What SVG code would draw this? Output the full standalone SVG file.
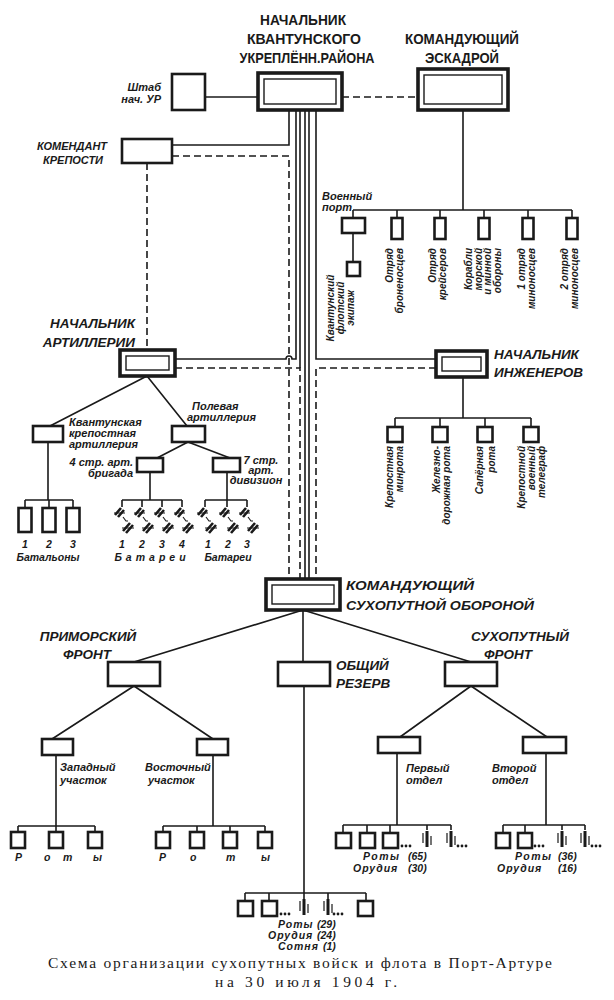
<svg xmlns="http://www.w3.org/2000/svg" xmlns:xlink="http://www.w3.org/1999/xlink" width="614" height="1000" viewBox="0 0 614 1000">
<style>
.ln{stroke:#1a1a1a;stroke-width:1.6;fill:none}
.dash{stroke:#1a1a1a;stroke-width:1.6;fill:none;stroke-dasharray:7 4}
.box{fill:#fff;stroke:#1a1a1a;stroke-width:2.6}
.bo{fill:#fff;stroke:#1a1a1a;stroke-width:3.6}
.bi{fill:none;stroke:#1a1a1a;stroke-width:1.4}
.sym{stroke:#1a1a1a;fill:none}
.dot{fill:#1a1a1a}
text{font-family:"Liberation Sans",Arial,sans-serif;fill:#1a1a1a}
.h{font-size:15.5px;font-weight:bold}
.hi{font-size:13.5px;font-weight:bold;font-style:italic}
.s{font-size:11px;font-weight:bold;font-style:italic}
.r{font-size:10px;font-weight:bold;font-style:italic}
.n{font-size:10.5px;font-weight:bold;font-style:italic}
.cap{font-family:"Liberation Serif","Times New Roman",serif;font-size:15.5px}
</style>
<defs>
<g id="bat" class="sym">
<path d="M-9,8 L-3,1 M-6,10 L0,3" stroke-width="2.6"/>
<path d="M-10,6 H1" stroke-width="1"/>
<path d="M-1,10 L2,14 H4" stroke-width="1.1"/>
<path d="M-1,24 L6,16 M2,26 L9,18" stroke-width="2.6"/>
<path d="M-2,21 H10" stroke-width="1"/>
</g>
<g id="gun" class="sym">
<path d="M0,-8 V8" stroke-width="3"/>
<path d="M-4,-6 V4 M4,-3 V6" stroke-width="1.2"/>
</g>
<g id="dots" class="dot">
<circle cx="0" cy="0" r="1.4"/><circle cx="4" cy="0" r="1.4"/><circle cx="8" cy="0" r="1.4"/>
</g>
</defs>
<rect x="0" y="0" width="614" height="1000" fill="#fff"/>

<g id="connectors">
<path class="ln" d="M205,97 H258"/>
<path class="dash" d="M342,97 H418"/>
<path class="ln" d="M463,110 V210 M353,210 H572 M353,210 V218 M397,210 V218 M440,210 V218 M484,210 V218 M528,210 V218 M572,210 V218 M353,233 V262"/>
<path class="ln" d="M289,110 V145 H172"/>
<path class="dash" d="M172,156 H289 V579"/>
<path class="ln" d="M296,110 V359 H292 a3,3 0 0 0 -6,0 H175"/>
<path class="ln" d="M300,110 V368"/>
<path class="dash" d="M175,368 H300 V579"/>
<path class="ln" d="M305,110 V579 M309,110 V579"/>
<path class="ln" d="M316,110 V359 H436"/>
<path class="dash" d="M436,368 H316 V579"/>
<path class="dash" d="M147,163 V350"/>
<path class="ln" d="M147,376 L50,426 M147,376 L187,426"/>
<path class="ln" d="M48,442 V500 M25,500 H73 M25,500 V508 M49,500 V508 M73,500 V508"/>
<path class="ln" d="M188,442 L157,458 M188,442 L230,458"/>
<path class="ln" d="M150,472 V500 M122,500 H182 M122,500 V507 M142,500 V507 M162,500 V507 M182,500 V507"/>
<path class="ln" d="M227,472 V500 M205,500 H247 M205,500 V507 M227,500 V507 M247,500 V507"/>
<path class="ln" d="M463,377 V418 M395,418 H531 M395,418 V427 M440,418 V427 M485,418 V427 M531,418 V427"/>
<path class="ln" d="M303,610 L134,662 M303,610 V662 M303,610 L471,662"/>
<path class="ln" d="M134,686 L52,739 M134,686 L213,739"/>
<path class="ln" d="M56,755 V826 M18,826 H95 M18,826 V832 M56,826 V832 M95,826 V832"/>
<path class="ln" d="M213,755 V826 M163,826 H265 M163,826 V832 M197,826 V832 M230,826 V832 M265,826 V832"/>
<path class="ln" d="M304,686 V893 M245,893 H366 M245,893 V901 M269,893 V901 M304,893 V899 M328,893 V899 M366,893 V901"/>
<path class="ln" d="M471,686 L400,737 M471,686 L547,737"/>
<path class="ln" d="M397,753 V825 M343,825 H451 M343,825 V833 M367,825 V833 M390,825 V833 M427,825 V830 M451,825 V830"/>
<path class="ln" d="M546,753 V825 M503,825 H585 M503,825 V833 M525,825 V833 M562,825 V830 M585,825 V830"/>
</g>

<g id="nach-ur">
<rect class="bo" x="258" y="73" width="84" height="37"/>
<rect class="bi" x="264" y="79" width="72" height="25"/>
<text class="h" x="303" y="25" text-anchor="middle" textLength="86" lengthAdjust="spacingAndGlyphs">НАЧАЛЬНИК</text>
<text class="h" x="304" y="44" text-anchor="middle" textLength="114" lengthAdjust="spacingAndGlyphs">КВАНТУНСКОГО</text>
<text class="h" x="307" y="63" text-anchor="middle" textLength="135" lengthAdjust="spacingAndGlyphs">УКРЕПЛЁНН.РАЙОНА</text>
</g>
<g id="eskadra">
<rect class="bo" x="418" y="69" width="90" height="41"/>
<rect class="bi" x="424" y="75" width="78" height="29"/>
<text class="h" x="462" y="44" text-anchor="middle" textLength="114" lengthAdjust="spacingAndGlyphs">КОМАНДУЮЩИЙ</text>
<text class="h" x="462" y="63" text-anchor="middle" textLength="74" lengthAdjust="spacingAndGlyphs">ЭСКАДРОЙ</text>
</g>
<g id="shtab">
<rect class="box" x="172" y="74" width="33" height="36"/>
<text class="s" x="161" y="91" text-anchor="end">Штаб</text>
<text class="s" x="161" y="103" text-anchor="end">нач. УР</text>
</g>
<g id="komendant">
<rect class="box" x="122" y="139" width="50" height="24"/>
<text class="s" x="72" y="150" text-anchor="middle">КОМЕНДАНТ</text>
<text class="s" x="73" y="164" text-anchor="middle">КРЕПОСТИ</text>
</g>

<g id="voenny-port">
<rect class="box" x="342" y="218" width="23" height="15"/>
<text class="s" x="322" y="200">Военный</text>
<text class="s" x="322" y="211">порт</text>
</g>
<g id="ekipazh">
<rect class="box" x="347" y="262" width="13" height="14"/>
<text class="r" text-anchor="middle" transform="translate(333.5,308) rotate(-90)">Квантунский</text>
<text class="r" text-anchor="middle" transform="translate(343.5,308) rotate(-90)">флотский</text>
<text class="r" text-anchor="middle" transform="translate(353.5,308) rotate(-90)">экипаж</text>
</g>
<g id="bronenostsy">
<rect class="box" x="391.5" y="218" width="11" height="21"/>
<text class="r" text-anchor="end" transform="translate(392.5,248) rotate(-90)">Отряд</text>
<text class="r" text-anchor="end" transform="translate(402.5,248) rotate(-90)">броненосцев</text>
</g>
<g id="kreysery">
<rect class="box" x="434.5" y="218" width="11" height="21"/>
<text class="r" text-anchor="end" transform="translate(435.5,248) rotate(-90)">Отряд</text>
<text class="r" text-anchor="end" transform="translate(445.5,248) rotate(-90)">крейсеров</text>
</g>
<g id="korabli">
<rect class="box" x="478.5" y="218" width="11" height="21"/>
<text class="r" text-anchor="end" transform="translate(472,248) rotate(-90)">Корабли</text>
<text class="r" text-anchor="end" transform="translate(481.5,248) rotate(-90)">морской</text>
<text class="r" text-anchor="end" transform="translate(491,248) rotate(-90)">и минной</text>
<text class="r" text-anchor="end" transform="translate(500.5,248) rotate(-90)">обороны</text>
</g>
<g id="minonostsy1">
<rect class="box" x="522.5" y="218" width="11" height="21"/>
<text class="r" text-anchor="end" transform="translate(524.5,248) rotate(-90)">1 отряд</text>
<text class="r" text-anchor="end" transform="translate(534.5,248) rotate(-90)">миноносцев</text>
</g>
<g id="minonostsy2">
<rect class="box" x="566.5" y="218" width="11" height="21"/>
<text class="r" text-anchor="end" transform="translate(567.5,248) rotate(-90)">2 отряд</text>
<text class="r" text-anchor="end" transform="translate(577.5,248) rotate(-90)">миноносцев</text>
</g>

<g id="artilleria">
<rect class="bo" x="120" y="350" width="55" height="26"/>
<rect class="bi" x="126" y="356" width="43" height="14"/>
<text class="hi" x="135" y="328" text-anchor="end">НАЧАЛЬНИК</text>
<text class="hi" x="135" y="347" text-anchor="end">АРТИЛЛЕРИИ</text>
</g>
<g id="kvant-art">
<rect class="box" x="33" y="426" width="30" height="16"/>
<text class="s" x="69" y="426">Квантунская</text>
<text class="s" x="69" y="437">крепостная</text>
<text class="s" x="69" y="448">артиллерия</text>
</g>
<g id="batalony">
<rect class="box" x="18.5" y="508" width="13" height="24"/>
<rect class="box" x="42.5" y="508" width="13" height="24"/>
<rect class="box" x="66.5" y="508" width="13" height="24"/>
<text class="n" x="25" y="548" text-anchor="middle">1</text>
<text class="n" x="49" y="548" text-anchor="middle">2</text>
<text class="n" x="73" y="548" text-anchor="middle">3</text>
<text class="n" x="48" y="561" text-anchor="middle">Батальоны</text>
</g>
<g id="polev-art">
<rect class="box" x="172" y="426" width="33" height="16"/>
<text class="s" x="192" y="410">Полевая</text>
<text class="s" x="187" y="421">артиллерия</text>
</g>
<g id="brigada4">
<rect class="box" x="137" y="458" width="26" height="14"/>
<text class="s" x="133" y="466" text-anchor="end">4 стр. арт.</text>
<text class="s" x="133" y="477" text-anchor="end">бригада</text>
</g>
<g id="batarei4">
<use xlink:href="#bat" href="#bat" x="124" y="507"/>
<use xlink:href="#bat" href="#bat" x="144" y="507"/>
<use xlink:href="#bat" href="#bat" x="164" y="507"/>
<use xlink:href="#bat" href="#bat" x="184" y="507"/>
<text class="n" x="122" y="548" text-anchor="middle">1</text>
<text class="n" x="142" y="548" text-anchor="middle">2</text>
<text class="n" x="162" y="548" text-anchor="middle">3</text>
<text class="n" x="182" y="548" text-anchor="middle">4</text>
<text class="n" x="152" y="561" text-anchor="middle" letter-spacing="4">Батареи</text>
</g>
<g id="divizion7">
<rect class="box" x="213" y="458" width="27" height="14"/>
<text class="s" x="261" y="464" text-anchor="middle">7 стр.</text>
<text class="s" x="261" y="474" text-anchor="middle">арт.</text>
<text class="s" x="256" y="484" text-anchor="middle">дивизион</text>
</g>
<g id="batarei7">
<use xlink:href="#bat" href="#bat" x="207" y="507"/>
<use xlink:href="#bat" href="#bat" x="229" y="507"/>
<use xlink:href="#bat" href="#bat" x="249" y="507"/>
<text class="n" x="208" y="548" text-anchor="middle">1</text>
<text class="n" x="228" y="548" text-anchor="middle">2</text>
<text class="n" x="247" y="548" text-anchor="middle">3</text>
<text class="n" x="228" y="561" text-anchor="middle">Батареи</text>
</g>

<g id="inzhenery">
<rect class="bo" x="436" y="351" width="51" height="26"/>
<rect class="bi" x="442" y="357" width="39" height="14"/>
<text class="hi" x="494" y="359">НАЧАЛЬНИК</text>
<text class="hi" x="494" y="377">ИНЖЕНЕРОВ</text>
</g>
<g id="minrota">
<rect class="box" x="387.5" y="427" width="15" height="15"/>
<text class="r" text-anchor="end" transform="translate(392.5,446) rotate(-90)">Крепостная</text>
<text class="r" text-anchor="end" transform="translate(403,446) rotate(-90)">минрота</text>
</g>
<g id="zhd-rota">
<rect class="box" x="432.5" y="427" width="15" height="15"/>
<text class="r" text-anchor="end" transform="translate(439.5,446) rotate(-90)">Железно-</text>
<text class="r" text-anchor="end" transform="translate(450,446) rotate(-90)">дорожная рота</text>
</g>
<g id="saper-rota">
<rect class="box" x="477.5" y="427" width="15" height="15"/>
<text class="r" text-anchor="end" transform="translate(482.5,446) rotate(-90)">Сапёрная</text>
<text class="r" text-anchor="end" transform="translate(494.5,446) rotate(-90)">рота</text>
</g>
<g id="telegraf">
<rect class="box" x="523.5" y="427" width="15" height="15"/>
<text class="r" text-anchor="end" transform="translate(524.5,446) rotate(-90)">Крепостной</text>
<text class="r" text-anchor="end" transform="translate(534.5,446) rotate(-90)">военный</text>
<text class="r" text-anchor="end" transform="translate(545,446) rotate(-90)">телеграф</text>
</g>

<g id="sukhoput-oborona">
<rect class="bo" x="266" y="579" width="74" height="31"/>
<rect class="bi" x="272" y="585" width="62" height="19"/>
<text class="hi" x="346" y="590" textLength="128" lengthAdjust="spacingAndGlyphs">КОМАНДУЮЩИЙ</text>
<text class="hi" x="346" y="610" textLength="188" lengthAdjust="spacingAndGlyphs">СУХОПУТНОЙ ОБОРОНОЙ</text>
</g>
<g id="primorsky">
<rect class="box" x="108" y="662" width="52" height="24"/>
<text class="hi" x="88" y="641" text-anchor="middle" font-size="13">ПРИМОРСКИЙ</text>
<text class="hi" x="87" y="659" text-anchor="middle" font-size="13">ФРОНТ</text>
</g>
<g id="rezerv">
<rect class="box" x="278" y="662" width="52" height="24"/>
<text class="hi" x="336" y="670" font-size="13">ОБЩИЙ</text>
<text class="hi" x="336" y="688" font-size="13">РЕЗЕРВ</text>
</g>
<g id="sukhoput-front">
<rect class="box" x="445" y="662" width="52" height="24"/>
<text class="hi" x="520" y="641" text-anchor="middle" font-size="13">СУХОПУТНЫЙ</text>
<text class="hi" x="508" y="659" text-anchor="middle" font-size="13">ФРОНТ</text>
</g>
<g id="zapadny">
<rect class="box" x="42" y="739" width="31" height="16"/>
<text class="s" x="60" y="771">Западный</text>
<text class="s" x="60" y="784">участок</text>
<rect class="box" x="11" y="832" width="14" height="16"/>
<rect class="box" x="49" y="832" width="14" height="16"/>
<rect class="box" x="88" y="832" width="14" height="16"/>
<text class="n" x="15" y="861">Р</text>
<text class="n" x="44" y="861">о</text>
<text class="n" x="63" y="861">т</text>
<text class="n" x="93" y="861">ы</text>
</g>
<g id="vostochny">
<rect class="box" x="197" y="739" width="31" height="16"/>
<text class="s" x="145" y="771">Восточный</text>
<text class="s" x="148" y="784">участок</text>
<rect class="box" x="156" y="832" width="14" height="16"/>
<rect class="box" x="190" y="832" width="14" height="16"/>
<rect class="box" x="223" y="832" width="14" height="16"/>
<rect class="box" x="258" y="832" width="14" height="16"/>
<text class="n" x="159" y="861">Р</text>
<text class="n" x="190" y="861">о</text>
<text class="n" x="226" y="861">т</text>
<text class="n" x="261" y="861">ы</text>
</g>
<g id="perviy">
<rect class="box" x="378" y="737" width="42" height="16"/>
<text class="s" x="406" y="772">Первый</text>
<text class="s" x="406" y="784">отдел</text>
<rect class="box" x="336" y="833" width="15" height="15"/>
<rect class="box" x="360" y="833" width="15" height="15"/>
<rect class="box" x="383" y="833" width="15" height="15"/>
<use xlink:href="#dots" href="#dots" x="402" y="846"/>
<use xlink:href="#gun" href="#gun" x="427" y="839"/>
<use xlink:href="#gun" href="#gun" x="451" y="839"/>
<use xlink:href="#dots" href="#dots" x="458" y="846"/>
<text class="n" x="363" y="860" letter-spacing="1.5">Роты</text>
<text class="n" x="408" y="860">(65)</text>
<text class="n" x="353" y="872" letter-spacing="1">Орудия</text>
<text class="n" x="408" y="872">(30)</text>
</g>
<g id="vtoroy">
<rect class="box" x="523" y="737" width="43" height="16"/>
<text class="s" x="492" y="772">Второй</text>
<text class="s" x="492" y="784">отдел</text>
<rect class="box" x="496" y="833" width="14" height="15"/>
<rect class="box" x="518" y="833" width="14" height="15"/>
<use xlink:href="#dots" href="#dots" x="535" y="846"/>
<use xlink:href="#gun" href="#gun" x="562" y="839"/>
<use xlink:href="#gun" href="#gun" x="585" y="839"/>
<use xlink:href="#dots" href="#dots" x="592" y="846"/>
<text class="n" x="515" y="860" letter-spacing="1.5">Роты</text>
<text class="n" x="558" y="860">(36)</text>
<text class="n" x="497" y="872" letter-spacing="1">Орудия</text>
<text class="n" x="558" y="872">(16)</text>
</g>
<g id="rezerv-units">
<rect class="box" x="238" y="901" width="15" height="15"/>
<rect class="box" x="262" y="901" width="15" height="15"/>
<use xlink:href="#dots" href="#dots" x="281" y="914"/>
<use xlink:href="#gun" href="#gun" x="304" y="907"/>
<use xlink:href="#gun" href="#gun" x="328" y="907"/>
<use xlink:href="#dots" href="#dots" x="334" y="914"/>
<rect class="box" x="358" y="901" width="15" height="15"/>
<text class="n" x="278" y="928" font-size="9.5" font-weight="normal" letter-spacing="1">Роты</text>
<text class="n" x="317" y="928" font-size="9.5">(29)</text>
<text class="n" x="268" y="939" font-size="9.5" font-weight="normal" letter-spacing="1">Орудия</text>
<text class="n" x="317" y="939" font-size="9.5">(24)</text>
<text class="n" x="278" y="950" font-size="9.5" font-weight="normal" letter-spacing="1">Сотня</text>
<text class="n" x="323" y="950" font-size="9.5">(1)</text>
</g>

<g id="caption">
<text class="cap" x="300" y="968" text-anchor="middle" textLength="504" lengthAdjust="spacing">Схема организации сухопутных войск и флота в Порт-Артуре</text>
<text class="cap" x="306" y="987" text-anchor="middle" textLength="182" lengthAdjust="spacing">на  30 июля 1904 г.</text>
</g>
</svg>
